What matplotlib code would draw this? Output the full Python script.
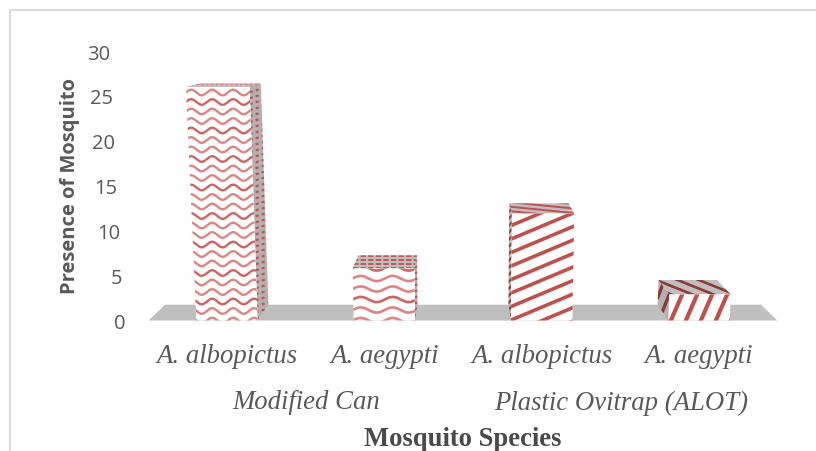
import numpy as np
import matplotlib
matplotlib.use('Agg')
from matplotlib import pyplot as plt
from matplotlib.patches import Polygon
from matplotlib.lines import Line2D
from matplotlib.transforms import ScaledTranslation

species = ['A. albopictus', 'A. aegypti', 'A. albopictus', 'A. aegypti']
traps = ['Modified Can', 'Plastic Ovitrap (ALOT)']
counts = [26, 5.8, 11.9, 2.9]
yticks = [0, 5, 10, 15, 20, 25, 30]

RED = '#c0504d'
PALE = '#dc8583'
DARK = '#8c3a38'
GREY = '#bfbfbf'
TXT = '#595959'

W, H = 816, 452
fig = plt.figure(figsize=(W/100, H/100), dpi=100)
fig.patch.set_facecolor('white')
# chart frame: only top and left show, the rest is cut off
fig.add_artist(Line2D([9.5/W, 9.5/W, 1], [0, 1-10.5/H, 1-10.5/H], transform=fig.transFigure,
                      color='#d9d9d9', lw=1.3))

# axes: category 0 sits at 227 px, category 3 at 699 px
SX = (699-227)/3.
SY = (321.5-52)/30.
left, right = 132, 790
ax = fig.add_axes([left/W, 1-321.5/H, (right-left)/W, (321.5-52)/H])
ax.set_xlim(-(227-left)/SX, 3+(right-699)/SX)
ax.set_ylim(0, 30)
ax.patch.set_alpha(0)
for s in ax.spines.values():
    s.set_visible(False)

# 3d look, one vanishing point
XV, YV = 1.5, 33.8
K = 0.052
LEAN = 0.0015
HW = 0.195

def proj(x, y, d):
    X = XV + (x-XV)*(1+LEAN*y)
    return (X + (XV-X)*K*d, y + (YV-y)*K*d)

def face(pts, color, z):
    p = Polygon(pts, closed=True, fc=color, ec='none', zorder=z, clip_on=False)
    ax.add_patch(p)
    return p, np.array(pts)

def waves(p, pts, spacing, wavelength, amp, lw, z):
    x0, x1 = pts[:,0].min(), pts[:,0].max()
    y0, y1 = pts[:,1].min(), pts[:,1].max()
    xs = np.linspace(x0, x1, 200)
    for i, yy in enumerate(np.arange(y0-spacing/SY, y1+spacing/SY, spacing/SY)):
        ys = yy + amp/SY*np.sin(2*np.pi*(xs-x0)*SX/wavelength)
        c = '#cf6462' if i % 3 == 0 else PALE
        l, = ax.plot(xs, ys, color=c, lw=lw, zorder=z)
        l.set_clip_path(p)

def stripes(p, pts, spacing, slope, color, lw, z, ls='-'):
    # slope and spacing in pixels
    x0, x1 = pts[:,0].min(), pts[:,0].max()
    y0, y1 = pts[:,1].min(), pts[:,1].max()
    run = (x1-x0)*SX*abs(slope)/SY
    for yy in np.arange(y0-run-spacing/SY, y1+run+spacing/SY, spacing/SY):
        xs = np.array([x0, x1])
        ys = yy + slope*(xs-x0)*SX/SY
        l, = ax.plot(xs, ys, color=color, lw=lw, ls=ls, zorder=z)
        l.set_clip_path(p)

ax.add_patch(Polygon([proj(-0.498, 0, 0), proj(3.498, 0, 0), proj(3.498, 0, 1), proj(-0.498, 0, 1)],
                     closed=True, fc=GREY, ec='none', zorder=1, clip_on=False))

for i, h in enumerate(counts):
    xa, xb = i-HW, i+HW
    z = 2 + i*10
    top, tp = face([proj(xa, h, 0), proj(xb, h, 0), proj(xb, h, 1), proj(xa, h, 1)], GREY, z)
    # side facing the middle of the chart
    xs = xb if i < 2 else xa
    side, sp = face([proj(xs, 0, 0), proj(xs, h, 0), proj(xs, h, 1), proj(xs, 0, 1)], '#b5b0b0', z)
    front, fp = face([proj(xa, 0, 0), proj(xb, 0, 0), proj(xb, h, 0), proj(xa, h, 0)], 'white', z+2)

    if i == 0:
        waves(front, fp, 9.5, 21, 2.8, 1.7, z+3)
        stripes(side, sp, 6, 0.3, RED, 1.5, z+1, ls=(0, (1.5, 1.5)))
        stripes(top, tp, 3.0, 0.0, PALE, 1.0, z+1, ls=(0, (2, 1.5)))
    elif i == 1:
        waves(front, fp, 10.5, 32, 2.6, 1.9, z+3)
        stripes(side, sp, 6, 0.3, RED, 1.4, z+1, ls=(0, (1.5, 1.5)))
        stripes(top, tp, 4.0, 0.0, RED, 1.3, z+1, ls=(0, (3, 1.2)))
    elif i == 2:
        stripes(front, fp, 13.5, 0.42, RED, 2.6, z+3)
        stripes(side, sp, 7, 1.0, DARK, 1.6, z+1)
        stripes(top, tp, 4.5, -0.1, RED, 1.4, z+1)
    else:
        stripes(front, fp, 34.5, 2.3, RED, 3.0, z+3)
        stripes(side, sp, 26, 2.5, DARK, 2.4, z+1)
        stripes(top, tp, 8.5, -0.4, DARK, 1.9, z+1)

ax.set_yticks(yticks)
ax.tick_params(axis='y', length=0, pad=5, labelsize=14.5, labelcolor=TXT)
# tick labels lean with the perspective
for v, t in zip(yticks, ax.get_yticklabels()):
    t.set_family('Open Sans')
    dx = (proj(ax.get_xlim()[0], v, 0)[0]-ax.get_xlim()[0])*SX/100.
    t.set_transform(t.get_transform() + ScaledTranslation(dx, 0, fig.dpi_scale_trans))

ax.set_xticks(range(4))
ax.set_xticklabels(species, family='Liberation Serif', style='italic', fontsize=19.3, color=TXT)
ax.tick_params(axis='x', length=0, pad=16)

# second label row, centred under each pair
tr = ax.get_xaxis_transform()
for xc, name in zip([(306-227)/SX, (621-227)/SX], traps):
    ax.text(xc, -81.5/(321.5-52), name, transform=tr, ha='center', va='center',
            family='Liberation Serif', style='italic', fontsize=19.3, color=TXT)

ax.set_ylabel('Presence of Mosquito', family='Open Sans', weight='bold', fontsize=14.5, color=TXT, va='center')
ax.yaxis.set_label_coords((70-left)/(right-left), (321.5-186)/(321.5-52))
ax.set_xlabel('Mosquito Species', family='Liberation Serif', weight='bold', fontsize=19.2, color='#4a4a4a', va='center')
ax.xaxis.set_label_coords((463-left)/(right-left), -(439.5-321.5)/(321.5-52))

fig.savefig('out.png', dpi=100)
